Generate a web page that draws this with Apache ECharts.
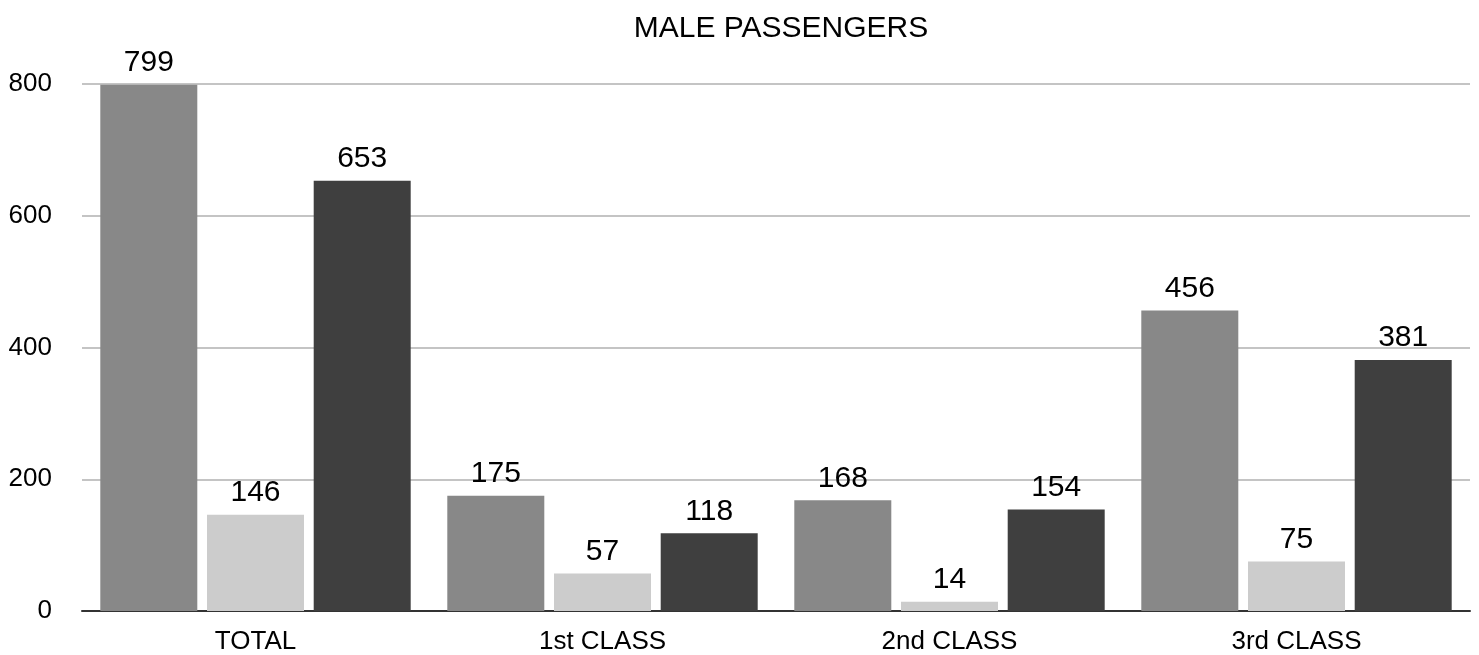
<!DOCTYPE html>
<html>
<head>
<meta charset="utf-8">
<script src="https://cdn.jsdelivr.net/npm/echarts@6/dist/echarts.min.js"></script>
<style>
    html, body {margin: 0; padding: 0; background: #fff;}
    #main {width: 1479px; height: 655px;}
</style>
</head>
<body>
<div id="main"></div>
<script>
// 数据
var aCategories = ['TOTAL', '1st CLASS', '2nd CLASS', '3rd CLASS'];
var aAll = [799, 175, 168, 456];
var aSurvived = [146, 57, 14, 75];
var aDied = [653, 118, 154, 381];
var aYTicks = [0, 200, 400, 600, 800];

var sFont = '"Liberation Sans", Arial, Helvetica, sans-serif';

function BarSeries(sName, aData, sColor) {
    return {
        name: sName,
        type: 'bar',
        barWidth: 97,
        barGap: '10%',
        itemStyle: {color: sColor},
        label: {
            show: true,
            position: 'top',
            distance: 7,
            color: '#000',
            fontSize: 30,
            fontFamily: sFont
        },
        data: aData
    };
}

function GetOption() {
    var jOption = {
        animation: false,
        title: {
            text: 'MALE PASSENGERS',
            left: 776,
            textAlign: 'center',
            top: 9,
            textStyle: {color: '#000', fontSize: 30, fontWeight: 'normal', fontFamily: sFont}
        },
        grid: {left: 82, right: 9, top: 84, bottom: 43, containLabel: false},
        xAxis: {
            type: 'category',
            data: aCategories,
            axisTick: {show: false},
            axisLine: {lineStyle: {color: '#333', width: 2}},
            axisLabel: {color: '#000', fontSize: 26, margin: 18, fontFamily: sFont}
        },
        yAxis: {
            type: 'value',
            min: aYTicks[0],
            max: aYTicks[aYTicks.length - 1],
            interval: 200,
            axisLine: {show: false},
            axisTick: {show: false},
            splitLine: {lineStyle: {color: '#c4c4c4', width: 2}},
            axisLabel: {color: '#000', fontSize: 26, margin: 30, fontFamily: sFont}
        },
        series: [
            BarSeries('Passengers', aAll, '#888888'),
            BarSeries('Survived', aSurvived, '#cccccc'),
            BarSeries('Died', aDied, '#3f3f3f')
        ]
    };
    return jOption;
}

var myChart = echarts.init(document.getElementById('main'));
myChart.setOption(GetOption());
</script>
</body>
</html>
